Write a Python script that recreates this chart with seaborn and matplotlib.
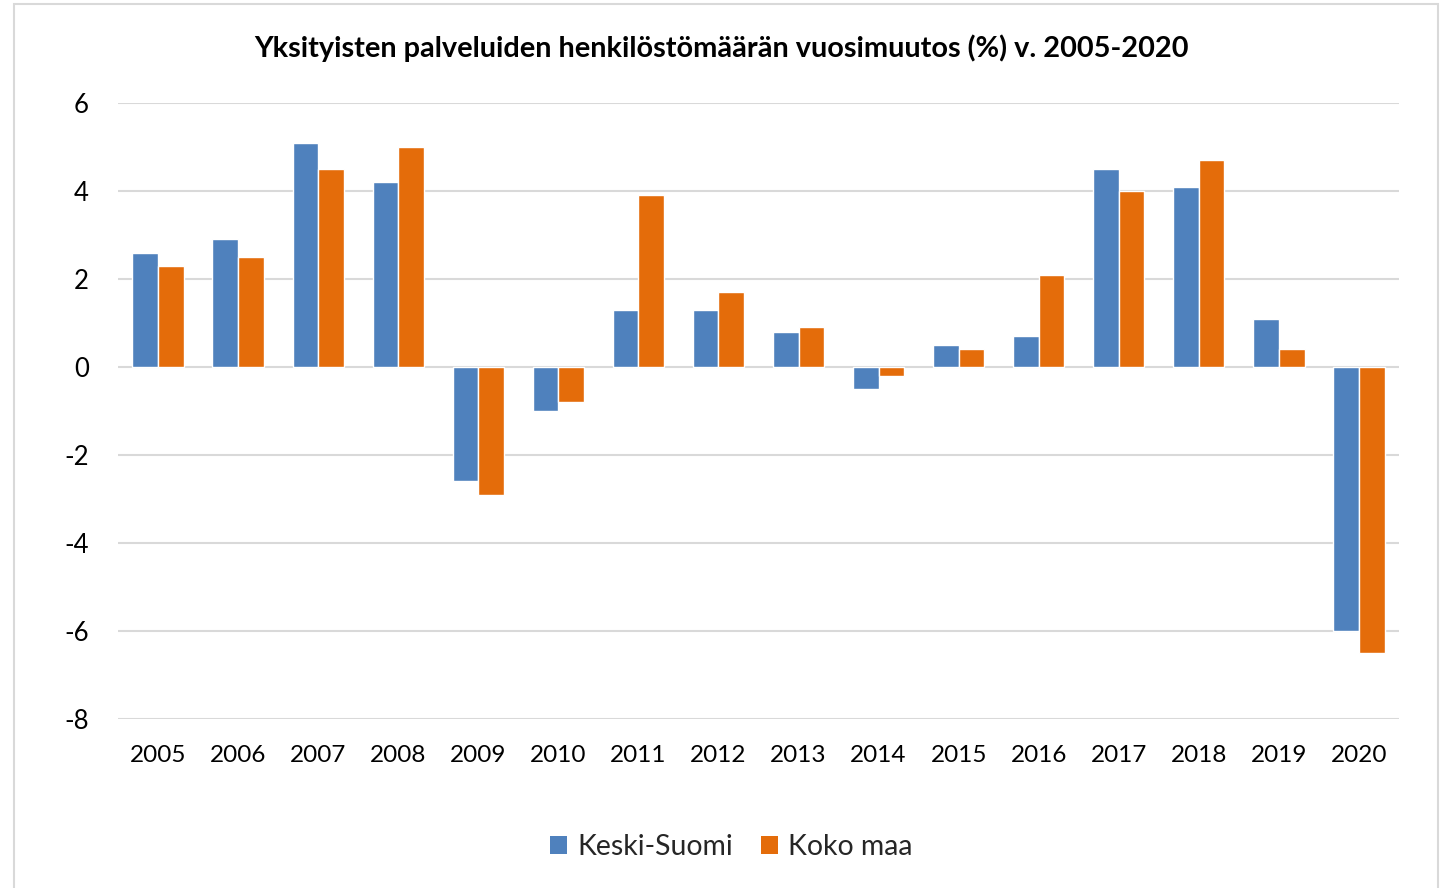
import matplotlib
matplotlib.use("Agg")
import matplotlib.pyplot as plt
import seaborn as sns
import pandas as pd
from matplotlib.patches import Rectangle, Patch

years = ["2005", "2006", "2007", "2008", "2009", "2010", "2011", "2012",
         "2013", "2014", "2015", "2016", "2017", "2018", "2019", "2020"]
keski_suomi = [2.6, 2.9, 5.1, 4.2, -2.6, -1.0, 1.3, 1.3, 0.8, -0.5, 0.5, 0.7, 4.5, 4.1, 1.1, -6.0]
koko_maa = [2.3, 2.5, 4.5, 5.0, -2.9, -0.8, 3.9, 1.7, 0.9, -0.2, 0.4, 2.1, 4.0, 4.7, 0.4, -6.5]
series = ["Keski-Suomi", "Koko maa"]
colors = ["#4F81BD", "#E46C0A"]
title = "Yksityisten palveluiden henkilöstömäärän vuosimuutos (%) v. 2005-2020"
yticks = [6, 4, 2, 0, -2, -4, -6, -8]

df = pd.DataFrame({
    "Vuosi": years * 2,
    "Arvo": keski_suomi + koko_maa,
    "Sarja": [series[0]] * len(years) + [series[1]] * len(years),
})

sns.set_theme(style="white")
plt.rcParams["font.family"] = ["Lato", "DejaVu Sans"]

fig = plt.figure(figsize=(14.43, 8.88), dpi=100)
ax = fig.add_axes([118 / 1443, 1 - 719 / 888, (1399 - 118) / 1443, (719 - 103) / 888])

sns.barplot(data=df, x="Vuosi", y="Arvo", hue="Sarja", palette=colors,
            width=0.64, gap=0, ax=ax, legend=False, saturation=1, zorder=3)

ax.set_ylim(-8, 6)
ax.set_xlim(-0.5, len(years) - 0.5)
ax.set_yticks(yticks)
ax.set_yticklabels([str(v) for v in yticks])
ax.yaxis.grid(True, color="#D9D9D9", linewidth=1.5, zorder=0)
ax.xaxis.grid(False)
ax.set_axisbelow(True)
for s in ax.spines.values():
    s.set_visible(False)
ax.tick_params(axis="y", length=0, pad=21, labelsize=18.5, labelcolor="#000000")
ax.tick_params(axis="x", length=0, pad=19, labelsize=17.5, labelcolor="#000000")
ax.set_xlabel("")
ax.set_ylabel("")

fig.text(0.5, 1 - 48 / 888, title, ha="center", va="center",
         fontsize=20.8, fontweight="bold", color="#000000")

handles = [Patch(facecolor=c, edgecolor="none") for c in colors]
fig.legend(handles, series, loc="center", bbox_to_anchor=(0.5 + 10 / 1443, 1 - 847 / 888),
           ncol=2, frameon=False, fontsize=20.4, handlelength=0.6, handleheight=0.6,
           handletextpad=0.35, columnspacing=1.0)

fig.patches.append(Rectangle((14 / 1443, -0.01), (1438 - 14) / 1443, 1 - 4 / 888 + 0.01,
                             transform=fig.transFigure, fill=False,
                             edgecolor="#D9D9D9", linewidth=1.5))

fig.savefig("out.png", dpi=100, facecolor="white")
